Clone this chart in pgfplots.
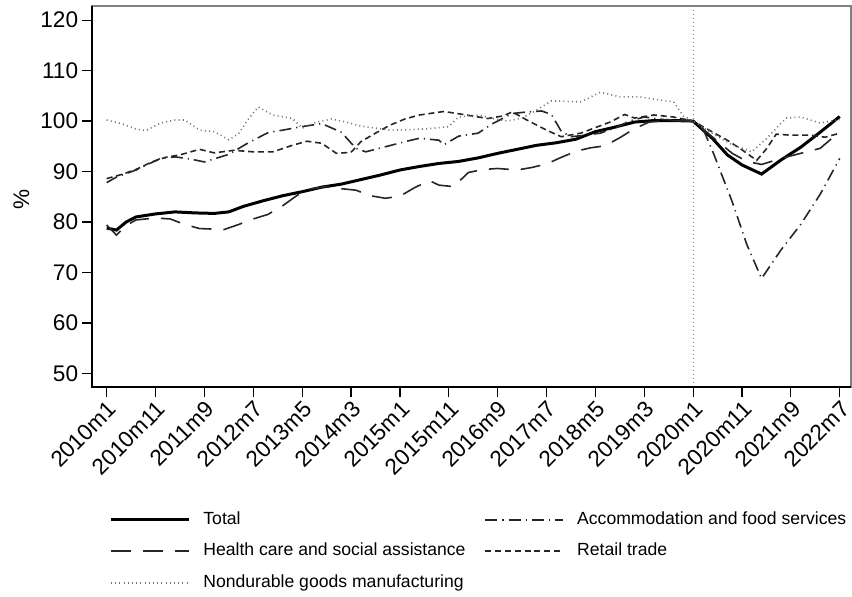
\documentclass[border=0pt]{standalone}
\usepackage{fontspec}
\setmainfont{Liberation Sans}
\usepackage{pgfplots}
\pgfplotsset{compat=1.18}
\usepackage{pgfplotstable}

\pgfplotstableread{
m v
0 78.8
2 78.4
4 80.0
6 81.0
10 81.6
14 82.0
18 81.8
22 81.7
25 82.0
28 83.1
32 84.2
36 85.2
40 86.0
44 86.9
48 87.5
52 88.4
56 89.3
60 90.3
64 91.0
68 91.6
72 92.0
76 92.7
80 93.6
84 94.4
88 95.2
92 95.7
96 96.4
100 97.9
104 98.8
108 99.8
112 100.1
116 100.1
120 100.0
124 96.5
127 93.3
130 91.3
134 89.5
138 92.3
142 94.8
146 97.8
150 100.9
}\total

\pgfplotstableread{
m v
0 79.4
2 77.4
4 79.3
6 80.4
10 80.8
13 80.6
16 79.5
19 78.7
24 78.5
27 79.5
30 80.6
33 81.5
36 83.2
39 85.3
42 86.6
45 87.0
48 86.6
51 86.3
54 85.2
57 84.7
60 85.1
63 86.8
66 88.2
68 87.3
71 87.0
74 89.8
77 90.4
80 90.6
84 90.3
87 90.8
90 91.5
93 92.8
96 94.0
99 94.7
102 95.1
105 96.7
108 98.5
111 99.8
115 100.1
120 100.0
124 96.8
128 93.6
131 92.0
134 91.4
138 92.6
142 93.6
146 94.6
150 97.9
}\health

\pgfplotstableread{
m v
0 88.6
3 89.4
6 90.4
9 91.8
12 92.8
15 93.3
19 94.4
22 93.7
26 94.2
30 93.9
34 93.9
38 95.2
41 96.0
44 95.6
47 93.6
50 93.8
52 95.9
55 97.6
58 99.2
61 100.4
64 101.2
69 101.9
73 101.3
78 100.5
81 101.0
83 101.8
86 100.2
90 98.2
93 96.9
97 97.6
100 98.7
103 99.8
106 101.3
108 100.6
112 101.2
116 100.8
120 100.0
124 97.8
127 96.2
130 94.3
133 92.2
135 94.5
137 97.4
140 97.2
144 97.2
147 96.8
150 97.6
}\retail

\pgfplotstableread{
m v
0 87.8
2 88.9
6 90.3
11 92.6
14 92.9
17 92.5
20 91.9
23 92.8
25 93.4
29 95.7
33 97.7
36 98.2
40 98.9
44 99.5
48 97.8
51 94.6
53 93.9
57 94.9
61 95.9
64 96.6
68 96.2
69 95.3
72 97.0
76 97.6
79 99.5
83 101.5
86 101.8
89 102.0
91 101.3
93 98.0
95 96.9
98 97.2
101 97.6
104 98.6
107 100.0
110 100.8
114 100.3
120 100.0
122 98.5
124 94.0
128 84.0
131 75.5
134 68.8
138 74.5
142 79.5
146 85.5
150 92.6
}\accom

\pgfplotstableread{
m v
0 100.2
3 99.5
6 98.4
8 98.1
11 99.6
14 100.2
16 100.2
19 98.2
22 97.9
25 96.3
27 97.5
29 100.4
31 102.8
34 101.2
38 100.5
40 98.6
43 99.8
46 100.4
49 99.8
52 99.0
55 98.6
58 98.2
62 98.3
66 98.5
70 98.9
72 100.8
76 101.2
79 100.5
82 100.0
85 100.6
88 102.2
91 104.0
94 103.9
97 103.8
101 105.7
105 104.8
109 104.8
113 104.2
116 103.8
118 101.0
120 100.0
124 97.5
128 95.3
132 93.9
135 96.5
139 100.6
142 100.8
146 99.6
150 100.3
}\nondur

\begin{document}
\begin{tikzpicture}
\useasboundingbox (0,0) rectangle (426pt,298pt);
\begin{axis}[
  at={(46pt,104.5pt)}, anchor=south west,
  scale only axis, width=379.5pt, height=190.5pt,
  xmin=-3, xmax=152.3, ymin=47.3, ymax=122.8,
  xtick={0,10,...,150},
  xticklabels={2010m1,2010m11,2011m9,2012m7,2013m5,2014m3,2015m1,2015m11,2016m9,2017m7,2018m5,2019m3,2020m1,2020m11,2021m9,2022m7},
  ytick={50,60,...,120},
  tick align=outside, tick pos=left,
  major tick length=4.75pt,
  every tick/.style={black, line width=0.6pt},
  ticklabel style={font=\fontsize{11.3}{13}\selectfont},
  /pgf/number format/assume math mode=true,
  xticklabel style={rotate=45, anchor=north east, inner sep=1pt},
  yticklabel style={inner sep=2pt},
  ylabel={\%},
  ylabel style={font=\fontsize{11.3}{13}\selectfont, xshift=-1.5pt},
  axis line style={black!50, line width=0.6pt},
  after end axis/.code={\draw[black, line width=1pt] (rel axis cs:0,1) -- (rel axis cs:0,0) -- (rel axis cs:1,0);},
  legend columns=2,
  legend cell align=left,
  legend image code/.code={\draw[#1] (0pt,0pt) -- (39pt,0pt);},
  legend style={at={(0.0224,-0.3255)}, anchor=north west, draw=none, fill=none,
    font=\fontsize{8.8}{10}\selectfont, inner sep=0pt, row sep=7.45pt,
    nodes={inner sep=0pt, text height=6.5pt, text depth=1.8pt},
    /tikz/every odd column/.append style={column sep=6.5pt},
    /tikz/every even column/.append style={column sep=9.5pt}},
]
\addplot[forget plot, black!50, line width=0.6pt, dash pattern=on 0.6pt off 1.4pt] coordinates {(120,47.3) (120,122.8)};
\addplot[black, line width=1.5pt] table[x=m,y=v] {\total};
\addlegendentry{Total}
\addplot[black!85, line width=0.8pt, dash pattern=on 6pt off 2.5pt on 0.6pt off 2.5pt] table[x=m,y=v] {\accom};
\addlegendentry{Accommodation and food services}
\addplot[black!85, line width=0.8pt, dash pattern=on 10pt off 6pt] table[x=m,y=v] {\health};
\addlegendentry{Health care and social assistance}
\addplot[black!85, line width=0.8pt, dash pattern=on 3pt off 1.9pt] table[x=m,y=v] {\retail};
\addlegendentry{Retail trade}
\addplot[black!55, line width=0.8pt, dash pattern=on 0.5pt off 1.6pt] table[x=m,y=v] {\nondur};
\addlegendentry{Nondurable goods manufacturing}
\end{axis}
\end{tikzpicture}
\end{document}
